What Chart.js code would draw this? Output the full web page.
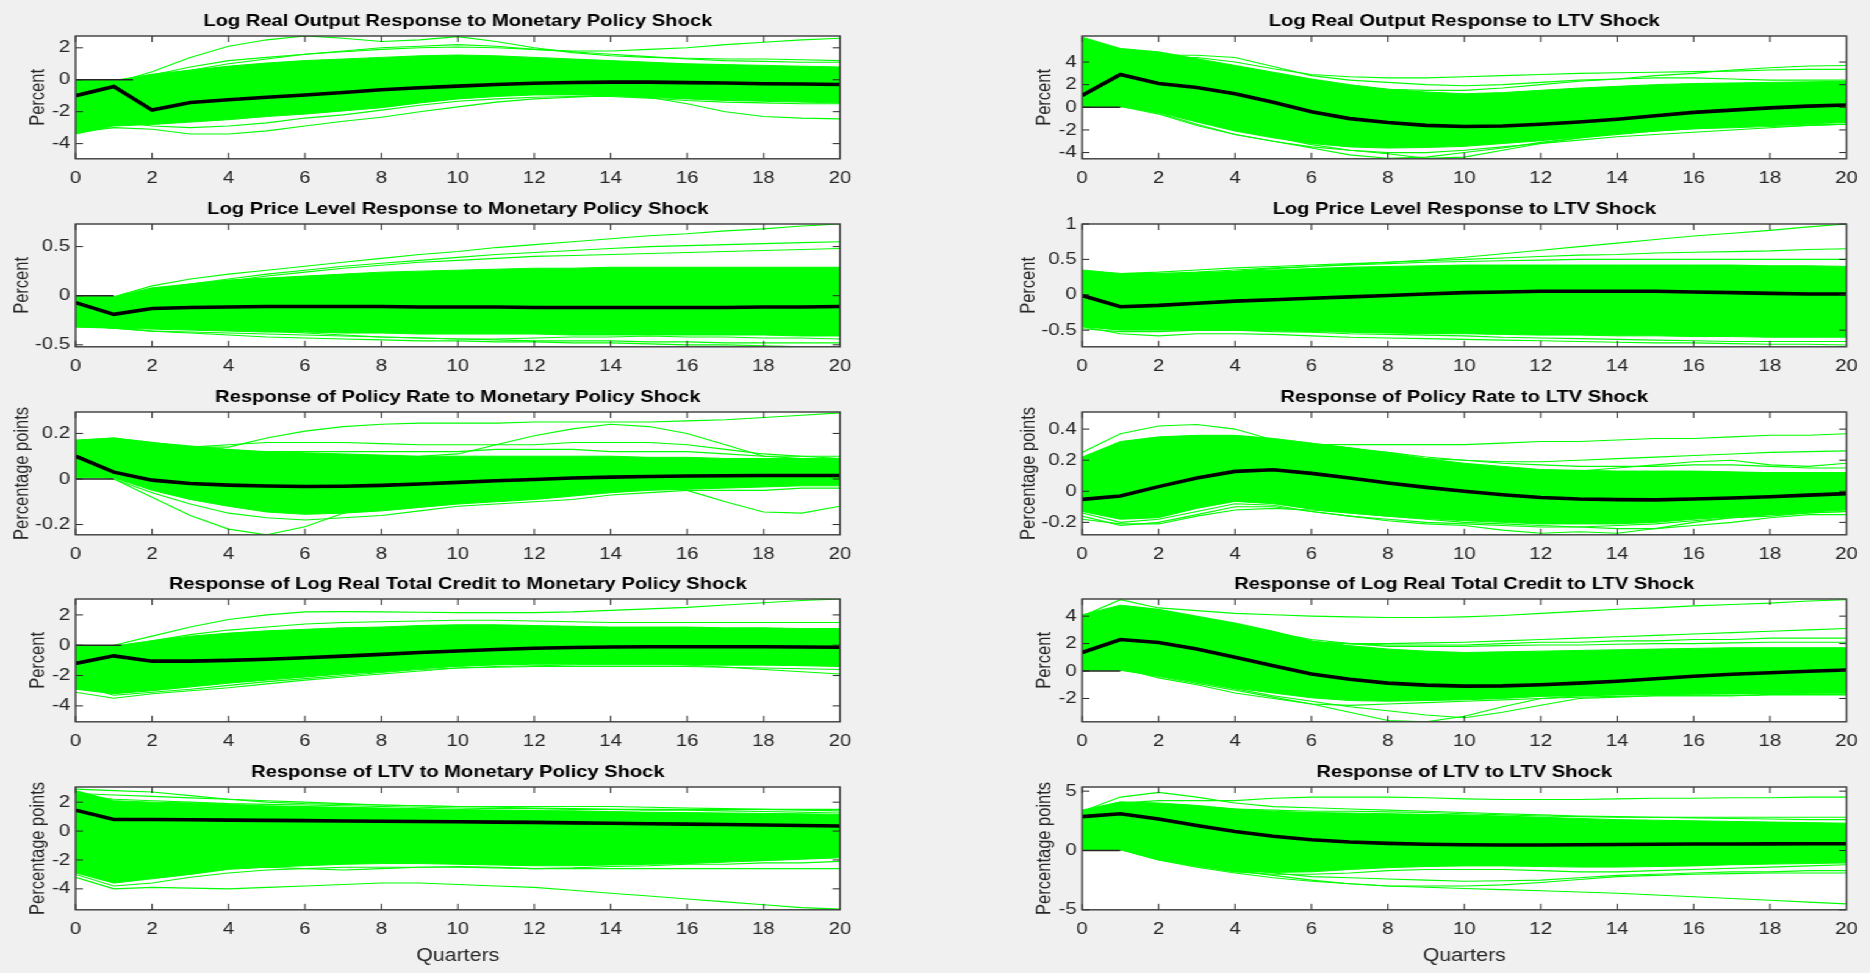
<!DOCTYPE html>
<html>
<head>
<meta charset="utf-8">
<title>Impulse responses to monetary policy and LTV shocks</title>
<script src="https://cdn.jsdelivr.net/npm/chart.js@4.4.1/dist/chart.umd.min.js"></script>
<style>
  html, body { margin: 0; padding: 0; background: #f0f0f0; overflow: hidden; width: 1870px; height: 973px; }
  /* the reference figure is stretched horizontally, so the page is drawn narrow and widened */
  #fig { position: absolute; left: 0; top: 0; width: 1533px; height: 973px; transform: scaleX(1.22); transform-origin: 0 0; }
  #fig canvas { position: absolute; }
</style>
</head>
<body>
<div id="fig"></div>
<script>
const quarters = [0,1,2,3,4,5,6,7,8,9,10,11,12,13,14,15,16,17,18,19,20];
const xTicks = [0,2,4,6,8,10,12,14,16,18,20];

//#region Log real output
const outMpRange = [-4.95, 2.74];
const outMpTicks = [-4, -2, 0, 2];
const outMpZeroSpan = [0, 1.5];
const outMpMedian = [-1.0,-0.42,-1.9,-1.42,-1.25,-1.1,-0.95,-0.8,-0.63,-0.5,-0.4,-0.3,-0.22,-0.17,-0.15,-0.15,-0.18,-0.2,-0.25,-0.27,-0.3];
const outMpUpper = [-0.05,-0.05,0.35,0.6,0.85,1.05,1.2,1.3,1.4,1.5,1.55,1.5,1.4,1.3,1.2,1.1,1.0,0.95,0.9,0.85,0.8];
const outMpLower = [-3.4,-2.9,-2.8,-2.65,-2.5,-2.3,-2.15,-1.95,-1.75,-1.45,-1.2,-1.05,-0.95,-0.95,-1.0,-1.1,-1.2,-1.3,-1.35,-1.4,-1.45];
const outMpDraws = [
    [-0.1,-0.2,0.5,1.4,2.1,2.5,2.74,2.6,2.4,2.5,2.7,2.4,2.0,1.7,1.5,1.4,1.35,1.3,1.3,1.25,1.2],
    [-0.3,-0.4,0.3,0.8,1.2,1.4,1.6,1.8,2.0,2.1,2.2,2.1,1.9,1.8,1.8,1.9,2.0,2.2,2.35,2.5,2.6],
    [-0.2,-0.3,0.2,0.6,1.0,1.3,1.6,1.75,1.9,2.0,2.05,2.0,1.9,1.75,1.6,1.45,1.3,1.2,1.15,1.1,1.1],
    [-3.3,-3.0,-3.1,-3.4,-3.4,-3.2,-2.9,-2.6,-2.35,-2.0,-1.7,-1.4,-1.2,-1.1,-1.0,-1.0,-1.0,-1.1,-1.1,-1.1,-1.1],
    [-2.8,-2.6,-2.9,-3.0,-2.9,-2.7,-2.4,-2.2,-1.9,-1.6,-1.35,-1.2,-1.1,-1.05,-1.05,-1.15,-1.3,-1.4,-1.45,-1.5,-1.5],
    [-2.5,-2.2,-2.3,-2.2,-2.1,-1.9,-1.7,-1.5,-1.3,-1.15,-1.0,-0.9,-0.85,-0.85,-0.9,-1.1,-1.5,-2.0,-2.3,-2.4,-2.45]
];

const outLtvRange = [-4.55, 6.3];
const outLtvTicks = [-4, -2, 0, 2, 4];
const outLtvZeroSpan = [0, 1];
const outLtvMedian = [1.05,2.9,2.1,1.75,1.2,0.45,-0.4,-1.0,-1.35,-1.6,-1.7,-1.65,-1.5,-1.3,-1.05,-0.75,-0.45,-0.25,-0.05,0.1,0.2];
const outLtvUpper = [6.2,5.2,4.9,4.3,3.7,3.1,2.5,2.0,1.6,1.35,1.2,1.3,1.5,1.7,1.85,2.0,2.1,2.15,2.2,2.25,2.3];
const outLtvLower = [0.05,0.05,-0.45,-1.3,-2.1,-2.7,-3.2,-3.5,-3.6,-3.55,-3.45,-3.2,-2.95,-2.65,-2.35,-2.1,-1.9,-1.75,-1.6,-1.45,-1.35];
const outLtvDraws = [
    [3.0,4.0,4.3,4.4,4.0,3.4,2.9,2.7,2.6,2.6,2.7,2.8,2.9,3.0,3.05,3.1,3.15,3.2,3.3,3.35,3.35],
    [2.0,3.0,3.0,2.8,2.5,2.2,2.0,1.8,1.6,1.5,1.5,1.7,2.0,2.3,2.5,2.8,3.0,3.3,3.5,3.65,3.7],
    [5.0,4.8,4.6,4.6,4.4,3.6,2.8,2.4,2.2,2.0,1.9,2.0,2.2,2.4,2.5,2.6,2.6,2.5,2.4,2.4,2.4],
    [0.3,0.2,-0.5,-1.5,-2.4,-3.0,-3.6,-4.2,-4.5,-4.4,-4.0,-3.6,-3.1,-2.7,-2.4,-2.1,-1.9,-1.8,-1.7,-1.6,-1.5],
    [0.2,0.1,-0.6,-1.6,-2.4,-3.0,-3.5,-3.8,-4.0,-4.0,-3.8,-3.5,-3.2,-2.9,-2.6,-2.4,-2.2,-2.0,-1.8,-1.6,-1.5],
    [0.5,0.4,-0.2,-1.0,-1.8,-2.6,-3.3,-3.8,-4.1,-4.5,-4.4,-3.8,-3.2,-2.7,-2.3,-2.0,-1.8,-1.7,-1.6,-1.5,-1.5]
];
//#endregion

//#region Log price level
const priceMpRange = [-0.52, 0.73];
const priceMpTicks = [-0.5, 0, 0.5];
const priceMpZeroSpan = [0, 1];
const priceMpMedian = [-0.07,-0.19,-0.13,-0.12,-0.115,-0.11,-0.11,-0.11,-0.11,-0.115,-0.115,-0.115,-0.12,-0.12,-0.12,-0.12,-0.12,-0.12,-0.115,-0.115,-0.11];
const priceMpUpper = [-0.01,-0.01,0.08,0.12,0.16,0.18,0.2,0.22,0.24,0.25,0.26,0.27,0.28,0.28,0.29,0.29,0.29,0.29,0.29,0.29,0.29];
const priceMpLower = [-0.32,-0.33,-0.34,-0.35,-0.36,-0.37,-0.37,-0.38,-0.38,-0.39,-0.39,-0.39,-0.39,-0.4,-0.4,-0.4,-0.4,-0.4,-0.4,-0.41,-0.41];
const priceMpDraws = [
    [-0.02,-0.01,0.1,0.17,0.22,0.26,0.3,0.34,0.38,0.42,0.45,0.49,0.52,0.55,0.58,0.61,0.63,0.66,0.68,0.71,0.73],
    [-0.05,-0.05,0.06,0.12,0.17,0.22,0.26,0.3,0.33,0.36,0.39,0.42,0.44,0.46,0.48,0.5,0.51,0.52,0.53,0.54,0.55],
    [-0.08,-0.1,0.05,0.1,0.15,0.2,0.24,0.28,0.31,0.34,0.36,0.38,0.4,0.41,0.42,0.43,0.44,0.45,0.46,0.47,0.48],
    [-0.3,-0.33,-0.36,-0.38,-0.4,-0.42,-0.43,-0.44,-0.45,-0.46,-0.46,-0.47,-0.47,-0.48,-0.48,-0.49,-0.5,-0.5,-0.51,-0.52,-0.52],
    [-0.3,-0.33,-0.36,-0.37,-0.38,-0.39,-0.4,-0.41,-0.42,-0.43,-0.44,-0.45,-0.46,-0.46,-0.46,-0.47,-0.47,-0.48,-0.48,-0.48,-0.48],
    [-0.28,-0.3,-0.3,-0.32,-0.33,-0.36,-0.38,-0.4,-0.42,-0.43,-0.44,-0.44,-0.43,-0.42,-0.42,-0.41,-0.42,-0.42,-0.43,-0.43,-0.44]
];

const priceLtvRange = [-0.735, 1.0];
const priceLtvTicks = [-0.5, 0, 0.5, 1];
const priceLtvZeroSpan = null;
const priceLtvMedian = [-0.01,-0.17,-0.15,-0.12,-0.09,-0.07,-0.05,-0.03,-0.01,0.01,0.03,0.04,0.05,0.05,0.05,0.05,0.04,0.03,0.02,0.01,0.01];
const priceLtvUpper = [0.35,0.3,0.3,0.31,0.33,0.35,0.37,0.39,0.4,0.41,0.42,0.42,0.42,0.42,0.42,0.42,0.42,0.42,0.41,0.41,0.4];
const priceLtvLower = [-0.45,-0.5,-0.5,-0.5,-0.5,-0.51,-0.52,-0.53,-0.54,-0.55,-0.55,-0.56,-0.57,-0.57,-0.58,-0.58,-0.59,-0.59,-0.6,-0.6,-0.6];
const priceLtvDraws = [
    [0.3,0.25,0.28,0.3,0.33,0.37,0.4,0.43,0.46,0.49,0.53,0.58,0.63,0.68,0.73,0.78,0.83,0.87,0.91,0.96,1.0],
    [0.32,0.3,0.32,0.35,0.38,0.4,0.42,0.44,0.46,0.48,0.5,0.52,0.54,0.56,0.57,0.59,0.6,0.61,0.62,0.64,0.65],
    [0.33,0.28,0.3,0.32,0.35,0.38,0.4,0.42,0.44,0.46,0.47,0.48,0.49,0.5,0.5,0.5,0.5,0.5,0.5,0.5,0.5],
    [-0.45,-0.55,-0.58,-0.55,-0.55,-0.56,-0.58,-0.6,-0.61,-0.62,-0.63,-0.64,-0.65,-0.66,-0.67,-0.68,-0.68,-0.69,-0.7,-0.7,-0.71],
    [-0.48,-0.52,-0.52,-0.5,-0.5,-0.52,-0.53,-0.55,-0.56,-0.57,-0.58,-0.6,-0.61,-0.62,-0.63,-0.64,-0.65,-0.66,-0.66,-0.66,-0.66]
];
//#endregion

//#region Policy rate
const rateMpRange = [-0.245, 0.294];
const rateMpTicks = [-0.2, 0, 0.2];
const rateMpZeroSpan = [0, 1];
const rateMpMedian = [0.1,0.03,-0.005,-0.02,-0.027,-0.031,-0.033,-0.032,-0.028,-0.022,-0.015,-0.008,-0.002,0.004,0.008,0.011,0.013,0.014,0.015,0.015,0.015];
const rateMpUpper = [0.17,0.18,0.16,0.145,0.13,0.12,0.115,0.11,0.105,0.1,0.1,0.1,0.1,0.1,0.1,0.095,0.095,0.09,0.09,0.09,0.09];
const rateMpLower = [0.005,0.005,-0.05,-0.09,-0.12,-0.145,-0.155,-0.15,-0.14,-0.125,-0.11,-0.1,-0.09,-0.075,-0.06,-0.05,-0.045,-0.04,-0.035,-0.03,-0.03];
const rateMpDraws = [
    [0.17,0.18,0.16,0.14,0.14,0.18,0.21,0.23,0.24,0.245,0.245,0.245,0.25,0.25,0.25,0.25,0.255,0.26,0.27,0.28,0.29],
    [0.15,0.16,0.14,0.12,0.11,0.1,0.1,0.1,0.095,0.1,0.11,0.15,0.19,0.22,0.24,0.23,0.2,0.15,0.1,0.09,0.08],
    [0.12,0.14,0.14,0.14,0.15,0.16,0.16,0.16,0.155,0.15,0.15,0.15,0.15,0.16,0.16,0.16,0.15,0.13,0.11,0.1,0.09],
    [0.16,0.17,0.15,0.13,0.12,0.12,0.12,0.12,0.12,0.12,0.12,0.13,0.13,0.13,0.12,0.12,0.12,0.11,0.1,0.1,0.1],
    [0.05,0.0,-0.08,-0.16,-0.22,-0.245,-0.21,-0.15,-0.1,-0.08,-0.06,-0.05,-0.04,-0.03,-0.02,-0.02,-0.02,-0.02,-0.02,-0.02,-0.02],
    [0.03,0.0,-0.06,-0.11,-0.15,-0.17,-0.18,-0.17,-0.16,-0.14,-0.12,-0.11,-0.1,-0.09,-0.07,-0.06,-0.05,-0.05,-0.05,-0.04,-0.04],
    [0.06,0.02,-0.02,-0.04,-0.05,-0.05,-0.05,-0.04,-0.04,-0.03,-0.03,-0.02,-0.02,-0.02,-0.02,-0.03,-0.05,-0.1,-0.145,-0.15,-0.12]
];

const rateLtvRange = [-0.28, 0.51];
const rateLtvTicks = [-0.2, 0, 0.2, 0.4];
const rateLtvZeroSpan = null;
const rateLtvMedian = [-0.052,-0.03,0.03,0.085,0.128,0.138,0.115,0.085,0.053,0.025,0.0,-0.022,-0.04,-0.05,-0.054,-0.055,-0.05,-0.043,-0.035,-0.025,-0.015];
const rateLtvUpper = [0.22,0.32,0.35,0.36,0.36,0.34,0.31,0.28,0.25,0.21,0.18,0.16,0.14,0.135,0.13,0.13,0.13,0.125,0.12,0.12,0.12];
const rateLtvLower = [-0.13,-0.18,-0.17,-0.11,-0.065,-0.08,-0.115,-0.14,-0.16,-0.175,-0.19,-0.2,-0.21,-0.21,-0.21,-0.2,-0.18,-0.165,-0.15,-0.135,-0.12];
const rateLtvDraws = [
    [0.25,0.37,0.42,0.43,0.4,0.33,0.3,0.28,0.24,0.2,0.17,0.15,0.13,0.12,0.12,0.12,0.12,0.12,0.12,0.12,0.12],
    [0.2,0.3,0.33,0.35,0.34,0.32,0.3,0.3,0.3,0.3,0.3,0.31,0.32,0.32,0.33,0.34,0.34,0.35,0.36,0.36,0.37],
    [0.15,0.25,0.28,0.3,0.3,0.28,0.26,0.24,0.22,0.21,0.2,0.19,0.19,0.2,0.21,0.22,0.23,0.24,0.25,0.255,0.26],
    [0.1,0.2,0.25,0.27,0.27,0.25,0.23,0.2,0.17,0.15,0.13,0.12,0.12,0.13,0.15,0.17,0.19,0.2,0.17,0.16,0.18],
    [0.18,0.28,0.32,0.34,0.34,0.32,0.3,0.27,0.25,0.22,0.2,0.18,0.17,0.16,0.16,0.16,0.17,0.17,0.16,0.15,0.15],
    [-0.16,-0.22,-0.2,-0.15,-0.1,-0.1,-0.13,-0.16,-0.19,-0.21,-0.22,-0.25,-0.27,-0.26,-0.27,-0.24,-0.2,-0.17,-0.15,-0.14,-0.13],
    [-0.14,-0.2,-0.18,-0.13,-0.08,-0.09,-0.13,-0.16,-0.18,-0.2,-0.21,-0.22,-0.23,-0.23,-0.22,-0.21,-0.19,-0.17,-0.16,-0.14,-0.13],
    [-0.18,-0.21,-0.21,-0.16,-0.12,-0.11,-0.12,-0.14,-0.16,-0.18,-0.2,-0.21,-0.22,-0.23,-0.24,-0.24,-0.22,-0.2,-0.17,-0.15,-0.15]
];
//#endregion

//#region Log real total credit
const creditMpRange = [-5.05, 3.05];
const creditMpTicks = [-4, -2, 0, 2];
const creditMpZeroSpan = [0, 1.2];
const creditMpMedian = [-1.2,-0.7,-1.05,-1.05,-1.0,-0.92,-0.83,-0.72,-0.6,-0.48,-0.38,-0.28,-0.2,-0.15,-0.12,-0.1,-0.1,-0.1,-0.1,-0.12,-0.13];
const creditMpUpper = [-0.05,-0.05,0.3,0.6,0.8,0.95,1.05,1.15,1.2,1.3,1.35,1.35,1.3,1.25,1.2,1.2,1.2,1.15,1.15,1.1,1.1];
const creditMpLower = [-2.9,-3.2,-3.0,-2.75,-2.5,-2.3,-2.1,-1.9,-1.75,-1.55,-1.4,-1.3,-1.25,-1.25,-1.25,-1.25,-1.25,-1.3,-1.3,-1.35,-1.4];
const creditMpDraws = [
    [-0.1,0.0,0.6,1.2,1.7,2.0,2.2,2.22,2.2,2.18,2.15,2.15,2.15,2.2,2.3,2.4,2.5,2.65,2.8,2.95,3.05],
    [-0.3,-0.2,0.3,0.7,1.0,1.2,1.4,1.5,1.55,1.6,1.65,1.65,1.6,1.55,1.5,1.5,1.5,1.5,1.5,1.5,1.5],
    [-3.1,-3.5,-3.2,-3.0,-2.8,-2.55,-2.3,-2.1,-1.9,-1.7,-1.5,-1.4,-1.35,-1.3,-1.3,-1.3,-1.3,-1.3,-1.3,-1.3,-1.3],
    [-2.6,-3.3,-3.1,-2.9,-2.65,-2.4,-2.2,-2.0,-1.8,-1.6,-1.5,-1.45,-1.4,-1.4,-1.4,-1.4,-1.4,-1.45,-1.5,-1.55,-1.6],
    [-2.0,-2.3,-2.2,-2.0,-1.8,-1.6,-1.45,-1.3,-1.2,-1.1,-1.0,-1.0,-1.0,-1.0,-1.05,-1.15,-1.3,-1.45,-1.6,-1.75,-1.9]
];

const creditLtvRange = [-3.7, 5.25];
const creditLtvTicks = [-2, 0, 2, 4];
const creditLtvZeroSpan = [0, 1];
const creditLtvMedian = [1.35,2.3,2.08,1.6,1.0,0.38,-0.22,-0.6,-0.88,-1.03,-1.1,-1.08,-1.0,-0.88,-0.74,-0.56,-0.38,-0.24,-0.12,-0.02,0.07];
const creditLtvUpper = [4.1,4.8,4.5,4.0,3.5,2.9,2.2,1.85,1.6,1.45,1.35,1.4,1.45,1.5,1.55,1.6,1.65,1.7,1.7,1.7,1.7];
const creditLtvLower = [0.05,0.05,-0.35,-0.8,-1.25,-1.6,-1.95,-2.15,-2.2,-2.15,-2.1,-2.0,-1.85,-1.8,-1.75,-1.72,-1.7,-1.68,-1.65,-1.62,-1.6];
const creditLtvDraws = [
    [4.0,5.2,4.6,4.4,4.2,4.1,4.0,3.95,3.9,3.9,3.95,4.05,4.2,4.35,4.5,4.6,4.75,4.85,4.95,5.1,5.2],
    [3.5,4.3,4.1,3.6,3.0,2.5,2.1,2.0,2.0,2.05,2.1,2.2,2.3,2.4,2.5,2.6,2.7,2.8,2.9,3.0,3.1],
    [2.5,3.5,3.3,3.0,2.7,2.4,2.1,2.0,1.9,1.9,1.9,2.0,2.1,2.1,2.2,2.2,2.3,2.3,2.4,2.4,2.4],
    [3.0,4.0,4.0,3.7,3.3,2.8,2.3,2.0,1.8,1.8,1.8,1.85,1.9,1.9,1.95,2.0,2.0,2.05,2.1,2.1,2.1],
    [0.2,0.1,-0.4,-0.9,-1.4,-1.9,-2.4,-3.0,-3.6,-3.7,-3.3,-2.6,-2.0,-1.8,-1.7,-1.7,-1.6,-1.6,-1.6,-1.6,-1.6],
    [0.2,0.2,-0.5,-1.0,-1.6,-2.0,-2.4,-2.5,-2.4,-2.3,-2.2,-2.1,-2.0,-1.9,-1.85,-1.8,-1.8,-1.8,-1.75,-1.75,-1.75],
    [0.3,0.3,-0.3,-0.8,-1.3,-1.8,-2.2,-2.6,-2.9,-3.2,-3.4,-3.0,-2.5,-2.0,-1.9,-1.8,-1.8,-1.8,-1.7,-1.7,-1.7]
];
//#endregion

//#region LTV
const ltvMpRange = [-5.45, 3.05];
const ltvMpTicks = [-4, -2, 0, 2];
const ltvMpZeroSpan = null;
const ltvMpMedian = [1.45,0.8,0.8,0.78,0.76,0.74,0.72,0.7,0.68,0.66,0.64,0.62,0.6,0.57,0.54,0.51,0.48,0.45,0.42,0.38,0.35];
const ltvMpUpper = [2.8,2.1,2.0,1.95,1.85,1.75,1.7,1.65,1.6,1.55,1.5,1.45,1.42,1.4,1.35,1.3,1.28,1.25,1.22,1.2,1.15];
const ltvMpLower = [-2.9,-3.6,-3.3,-3.0,-2.65,-2.5,-2.4,-2.3,-2.25,-2.25,-2.3,-2.35,-2.4,-2.4,-2.35,-2.3,-2.25,-2.15,-2.05,-1.95,-1.85];
const ltvMpDraws = [
    [-3.2,-4.0,-3.9,-3.95,-4.0,-3.9,-3.8,-3.7,-3.6,-3.6,-3.7,-3.8,-3.9,-4.1,-4.3,-4.5,-4.7,-4.9,-5.1,-5.3,-5.4],
    [2.9,2.8,2.7,2.45,2.2,2.1,2.0,1.9,1.8,1.75,1.7,1.65,1.6,1.55,1.5,1.5,1.5,1.5,1.5,1.5,1.5],
    [2.5,2.2,2.1,2.0,1.9,1.85,1.8,1.75,1.7,1.65,1.6,1.55,1.55,1.5,1.5,1.45,1.45,1.4,1.35,1.3,1.25],
    [-3.0,-3.8,-3.6,-3.2,-2.9,-2.7,-2.6,-2.5,-2.5,-2.5,-2.5,-2.55,-2.6,-2.6,-2.6,-2.6,-2.6,-2.6,-2.6,-2.6,-2.6],
    [-2.7,-3.4,-3.0,-2.8,-2.6,-2.5,-2.6,-2.7,-2.6,-2.5,-2.45,-2.5,-2.6,-2.55,-2.45,-2.4,-2.3,-2.3,-2.2,-2.2,-2.1],
    [2.6,2.5,2.4,2.3,2.2,2.0,1.9,1.85,1.8,1.75,1.7,1.7,1.7,1.7,1.7,1.65,1.6,1.55,1.5,1.45,1.4]
];

const ltvLtvRange = [-5, 5.35];
const ltvLtvTicks = [-5, 0, 5];
const ltvLtvZeroSpan = [0, 1];
const ltvLtvMedian = [2.85,3.1,2.65,2.1,1.6,1.2,0.9,0.72,0.6,0.52,0.48,0.46,0.46,0.48,0.5,0.52,0.54,0.55,0.56,0.57,0.57];
const ltvLtvUpper = [3.4,4.1,4.0,3.8,3.5,3.3,3.2,3.15,3.1,3.05,3.0,2.9,2.8,2.7,2.6,2.55,2.5,2.45,2.4,2.35,2.3];
const ltvLtvLower = [0.05,0.05,-0.8,-1.3,-1.75,-1.85,-1.8,-1.6,-1.45,-1.35,-1.3,-1.3,-1.35,-1.4,-1.4,-1.35,-1.3,-1.2,-1.15,-1.1,-1.05];
const ltvLtvDraws = [
    [3.3,4.5,4.9,4.5,4.0,3.7,3.6,3.5,3.4,3.3,3.2,3.1,3.0,2.9,2.85,2.8,2.8,2.8,2.8,2.8,2.8],
    [3.2,4.0,4.2,4.2,4.2,4.4,4.5,4.5,4.5,4.45,4.35,4.3,4.3,4.3,4.35,4.4,4.4,4.45,4.45,4.5,4.5],
    [3.0,3.8,3.9,3.7,3.5,3.4,3.3,3.3,3.25,3.2,3.1,3.0,2.9,2.85,2.8,2.8,2.75,2.7,2.65,2.6,2.6],
    [0.2,0.1,-0.8,-1.4,-1.9,-2.3,-2.6,-2.8,-3.0,-3.1,-3.2,-3.3,-3.4,-3.5,-3.6,-3.75,-3.9,-4.05,-4.2,-4.35,-4.5],
    [0.3,0.2,-0.6,-1.2,-1.7,-2.1,-2.5,-2.8,-3.0,-3.0,-3.0,-2.9,-2.7,-2.45,-2.2,-2.1,-2.0,-1.95,-1.9,-1.9,-1.9],
    [0.1,0.1,-0.7,-1.3,-1.8,-2.0,-2.0,-1.9,-1.7,-1.6,-1.6,-1.6,-1.7,-1.8,-1.8,-1.7,-1.6,-1.5,-1.4,-1.3,-1.2],
    [0.4,0.3,-0.4,-1.0,-1.5,-1.9,-2.2,-2.3,-2.4,-2.5,-2.6,-2.55,-2.5,-2.3,-2.1,-2.0,-1.9,-1.8,-1.8,-1.7,-1.7]
];
//#endregion

const panels = [
    { title: 'Log Real Output Response to Monetary Policy Shock', yLabel: 'Percent', range: outMpRange, ticks: outMpTicks, zero: outMpZeroSpan, median: outMpMedian, upper: outMpUpper, lower: outMpLower, draws: outMpDraws },
    { title: 'Log Real Output Response to LTV Shock', yLabel: 'Percent', range: outLtvRange, ticks: outLtvTicks, zero: outLtvZeroSpan, median: outLtvMedian, upper: outLtvUpper, lower: outLtvLower, draws: outLtvDraws },
    { title: 'Log Price Level Response to Monetary Policy Shock', yLabel: 'Percent', range: priceMpRange, ticks: priceMpTicks, zero: priceMpZeroSpan, median: priceMpMedian, upper: priceMpUpper, lower: priceMpLower, draws: priceMpDraws },
    { title: 'Log Price Level Response to LTV Shock', yLabel: 'Percent', range: priceLtvRange, ticks: priceLtvTicks, zero: priceLtvZeroSpan, median: priceLtvMedian, upper: priceLtvUpper, lower: priceLtvLower, draws: priceLtvDraws },
    { title: 'Response of Policy Rate to Monetary Policy Shock', yLabel: 'Percentage points', range: rateMpRange, ticks: rateMpTicks, zero: rateMpZeroSpan, median: rateMpMedian, upper: rateMpUpper, lower: rateMpLower, draws: rateMpDraws },
    { title: 'Response of Policy Rate to LTV Shock', yLabel: 'Percentage points', range: rateLtvRange, ticks: rateLtvTicks, zero: rateLtvZeroSpan, median: rateLtvMedian, upper: rateLtvUpper, lower: rateLtvLower, draws: rateLtvDraws },
    { title: 'Response of Log Real Total Credit to Monetary Policy Shock', yLabel: 'Percent', range: creditMpRange, ticks: creditMpTicks, zero: creditMpZeroSpan, median: creditMpMedian, upper: creditMpUpper, lower: creditMpLower, draws: creditMpDraws },
    { title: 'Response of Log Real Total Credit to LTV Shock', yLabel: 'Percent', range: creditLtvRange, ticks: creditLtvTicks, zero: creditLtvZeroSpan, median: creditLtvMedian, upper: creditLtvUpper, lower: creditLtvLower, draws: creditLtvDraws },
    { title: 'Response of LTV to Monetary Policy Shock', yLabel: 'Percentage points', range: ltvMpRange, ticks: ltvMpTicks, zero: ltvMpZeroSpan, median: ltvMpMedian, upper: ltvMpUpper, lower: ltvMpLower, draws: ltvMpDraws },
    { title: 'Response of LTV to LTV Shock', yLabel: 'Percentage points', range: ltvLtvRange, ticks: ltvLtvTicks, zero: ltvLtvZeroSpan, median: ltvLtvMedian, upper: ltvLtvUpper, lower: ltvLtvLower, draws: ltvLtvDraws }
];

// layout, in page pixels before the horizontal stretch
const plotLeft = [62, 887];
const plotWidth = 626.5;
const plotHeight = 122.8;
const firstTop = 36;
const rowStep = 187.8;
const yAxisWidth = 62;
const titleBlock = 36;
const canvasWidth = 713;
const tickLen = 6;

const GREEN = '#00ff00';
const INK = '#262626';

Chart.defaults.font.family = '"Liberation Sans", Arial, Helvetica, sans-serif';

// white plot area, MATLAB style box with inward ticks on all four sides
const axesBox = {
    id: 'axesBox',
    beforeDraw(chart) {
        const { ctx, chartArea: a } = chart;
        ctx.save();
        ctx.fillStyle = '#ffffff';
        ctx.fillRect(a.left, a.top, a.right - a.left, a.bottom - a.top);
        ctx.restore();
    },
    afterDatasetsDraw(chart) {
        const { ctx, chartArea: a, scales } = chart;
        ctx.save();
        ctx.strokeStyle = INK;
        ctx.lineWidth = 1;
        ctx.beginPath();
        scales.x.ticks.forEach(t => {
            const px = scales.x.getPixelForValue(t.value);
            ctx.moveTo(px, a.bottom); ctx.lineTo(px, a.bottom - tickLen);
            ctx.moveTo(px, a.top); ctx.lineTo(px, a.top + tickLen);
        });
        scales.y.ticks.forEach(t => {
            const py = scales.y.getPixelForValue(t.value);
            ctx.moveTo(a.left, py); ctx.lineTo(a.left + tickLen, py);
            ctx.moveTo(a.right, py); ctx.lineTo(a.right - tickLen, py);
        });
        ctx.stroke();
        ctx.strokeStyle = '#3a3a3a';
        ctx.lineWidth = 1.4;
        ctx.strokeRect(a.left, a.top, a.right - a.left, a.bottom - a.top);
        ctx.restore();
    }
};

function toPoints(values) {
    return values.map((v, i) => ({ x: quarters[i], y: v }));
}

function lineSet(points, color, width, order) {
    return {
        data: points,
        borderColor: color,
        backgroundColor: color,
        borderWidth: width,
        pointRadius: 0,
        tension: 0,
        fill: false,
        order: order
    };
}

function buildDatasets(p) {
    const sets = [lineSet(toPoints(p.median), '#000000', 3.6, 0)];
    if (p.zero) {
        sets.push(lineSet(p.zero.map(x => ({ x: x, y: 0 })), INK, 1.6, 1));
    }
    p.draws.forEach(d => sets.push(lineSet(toPoints(d), GREEN, 1.1, 2)));
    const upper = lineSet(toPoints(p.upper), GREEN, 1, 3);
    upper.fill = '+1';
    sets.push(upper);
    sets.push(lineSet(toPoints(p.lower), GREEN, 1, 3));
    return sets;
}

function createPanel(p, index) {
    const row = Math.floor(index / 2);
    const col = index % 2;
    const last = row === 4;
    const top = firstTop + row * rowStep - titleBlock;
    const height = last ? Math.round(973 - top) : 200;
    const xAxisHeight = height - titleBlock - plotHeight;
    const decimalTicks = p.ticks.some(v => !Number.isInteger(v));

    const canvas = document.createElement('canvas');
    canvas.width = canvasWidth;
    canvas.height = height;
    canvas.style.left = (plotLeft[col] - yAxisWidth) + 'px';
    canvas.style.top = top + 'px';
    document.getElementById('fig').appendChild(canvas);

    new Chart(canvas, {
        type: 'line',
        data: { datasets: buildDatasets(p) },
        plugins: [axesBox],
        options: {
            responsive: false,
            animation: false,
            events: [],
            layout: { padding: { left: 0, top: 0, bottom: 0, right: canvasWidth - yAxisWidth - plotWidth } },
            plugins: {
                legend: { display: false },
                tooltip: { enabled: false },
                title: {
                    display: true,
                    text: p.title,
                    fullSize: false,
                    color: '#000000',
                    font: { size: 16.5, weight: 'bold' },
                    padding: { top: 12, bottom: 4.2 }
                }
            },
            scales: {
                x: {
                    type: 'linear',
                    min: 0,
                    max: 20,
                    grid: { display: false, drawTicks: false },
                    border: { display: false },
                    afterBuildTicks: s => { s.ticks = xTicks.map(v => ({ value: v })); },
                    afterFit: s => { s.height = xAxisHeight; },
                    ticks: { color: INK, font: { size: 16.7 }, padding: 9.1, maxRotation: 0, autoSkip: false, callback: v => String(v) },
                    title: {
                        display: last,
                        text: 'Quarters',
                        color: INK,
                        font: { size: 17.5 },
                        padding: { top: 0, bottom: 6.7 }
                    }
                },
                y: {
                    type: 'linear',
                    min: p.range[0],
                    max: p.range[1],
                    grid: { display: false, drawTicks: false },
                    border: { display: false },
                    afterBuildTicks: s => { s.ticks = p.ticks.map(v => ({ value: v })); },
                    afterFit: s => { s.width = yAxisWidth; },
                    ticks: { color: INK, font: { size: 16.7 }, padding: 4.5, callback: v => String(v) },
                    title: {
                        display: true,
                        text: p.yLabel,
                        color: INK,
                        font: { size: 16.5 },
                        padding: { top: decimalTicks ? 8.5 : 22, bottom: 0 }
                    }
                }
            }
        }
    });
}

panels.forEach(createPanel);
</script>
</body>
</html>
